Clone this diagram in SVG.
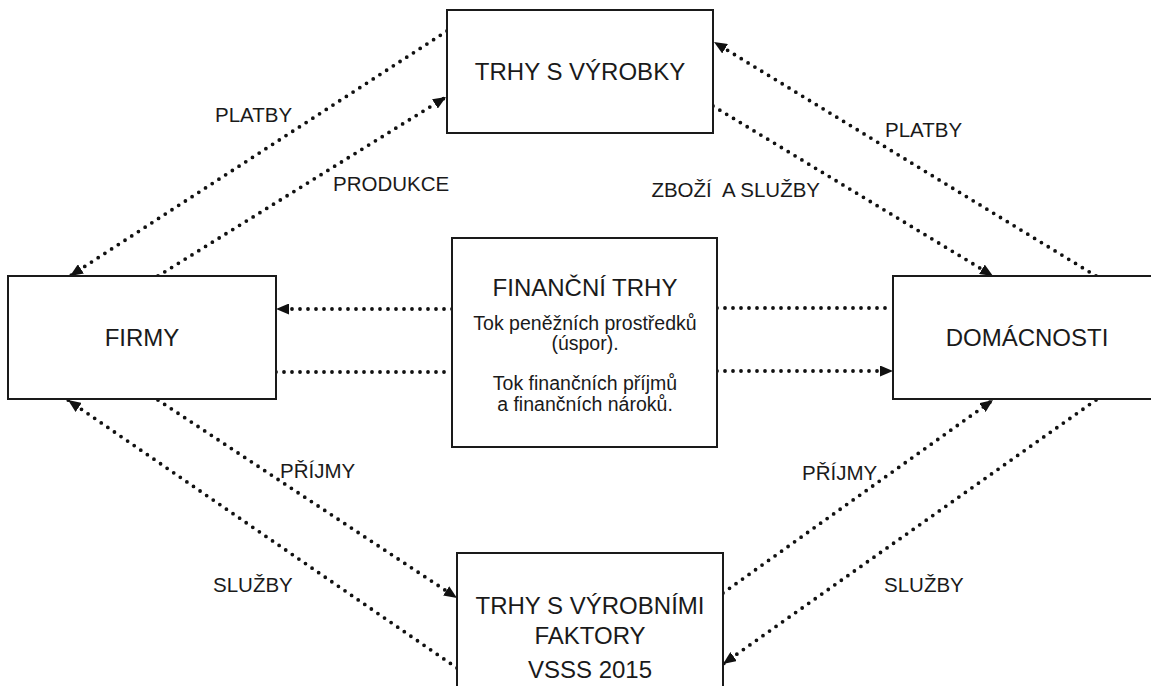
<svg xmlns="http://www.w3.org/2000/svg" width="1151" height="686" viewBox="0 0 1151 686">
<style>
.box{fill:#fff;stroke:#1a1a1a;stroke-width:2}
.t{font-family:"Liberation Sans",Arial,sans-serif;fill:#1a1a1a}
.big{font-size:24px;text-anchor:middle}
.sub{font-size:19.5px;text-anchor:middle}
.lbl{font-size:20.5px}
.c{fill:none;stroke:#111;stroke-width:3.8;stroke-dasharray:0 8;stroke-linecap:round}
.a{marker-end:url(#arr)}
</style>
<defs>
<marker id="arr" markerUnits="userSpaceOnUse" markerWidth="13" markerHeight="11" refX="13" refY="5.5" orient="auto" viewBox="0 0 13 11">
<path d="M0,0 L13,5.5 L0,11 z" fill="#111"/>
</marker>
</defs>
<rect width="1151" height="686" fill="#fff"/>
<g id="connectors">
<path class="c a" d="M447,31 L70,276"/>
<path class="c a" d="M158,276 L446,97"/>
<path class="c a" d="M713,106 L993,276"/>
<path class="c a" d="M1096,276 L714,42"/>
<path class="c a" d="M452,309 L276,309"/>
<path class="c" d="M276,372 L452,372"/>
<path class="c" d="M717,308 L893,308"/>
<path class="c a" d="M717,371 L893,371"/>
<path class="c a" d="M158,400 L457,598"/>
<path class="c a" d="M457,668 L68,400"/>
<path class="c a" d="M723,593 L993,400"/>
<path class="c a" d="M1096,400 L723,664"/>
</g>
<g id="labels" class="t lbl">
<text x="215" y="122">PLATBY</text>
<text x="333" y="191">PRODUKCE</text>
<text x="820" y="197" text-anchor="end" xml:space="preserve">ZBOŽÍ  A SLUŽBY</text>
<text x="885" y="137">PLATBY</text>
<text x="280" y="478">PŘÍJMY</text>
<text x="213" y="592">SLUŽBY</text>
<text x="802" y="480">PŘÍJMY</text>
<text x="884" y="592">SLUŽBY</text>
</g>
<g id="trhy-s-vyrobky">
<rect class="box" x="447" y="10" width="266" height="123"/>
<text class="t big" x="580" y="80">TRHY S VÝROBKY</text>
</g>
<g id="firmy">
<rect class="box" x="8" y="276" width="268" height="123"/>
<text class="t big" x="142" y="346">FIRMY</text>
</g>
<g id="domacnosti">
<rect class="box" x="893" y="276" width="268" height="123"/>
<text class="t big" x="1027" y="346">DOMÁCNOSTI</text>
</g>
<g id="financni-trhy">
<rect class="box" x="452" y="238" width="265" height="209"/>
<text class="t big" x="585" y="296">FINANČNÍ TRHY</text>
<text class="t sub" x="585" y="330">Tok peněžních prostředků</text>
<text class="t sub" x="585" y="350">(úspor).</text>
<text class="t sub" x="585" y="390">Tok finančních příjmů</text>
<text class="t sub" x="585" y="411">a finančních nároků.</text>
</g>
<g id="trhy-s-vyrobnimi-faktory">
<rect class="box" x="457" y="553" width="266" height="150"/>
<text class="t big" x="590" y="614">TRHY S VÝROBNÍMI</text>
<text class="t big" x="590" y="644">FAKTORY</text>
<text class="t big" x="590" y="678">VSSS 2015</text>
</g>
</svg>
